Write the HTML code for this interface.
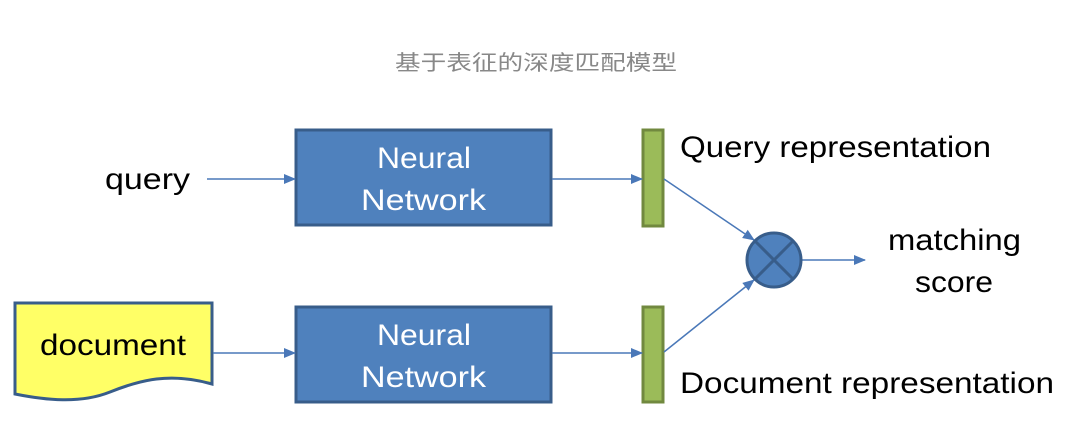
<!DOCTYPE html>
<html><head><meta charset="utf-8"><style>
html,body{margin:0;padding:0;background:#fff;width:1080px;height:425px;overflow:hidden}
svg text{font-family:"Liberation Sans","DejaVu Sans",sans-serif}
</style></head><body>
<svg width="1080" height="425" viewBox="0 0 1080 425" xmlns="http://www.w3.org/2000/svg">
<defs>
<marker id="a" markerWidth="12" markerHeight="10" refX="11" refY="5" orient="auto" markerUnits="userSpaceOnUse">
<path d="M0,0 L12,5 L0,10 Z" fill="#4a78b8"/></marker>
</defs>
<text x="395" y="70" font-size="21" fill="#888" textLength="282" lengthAdjust="spacingAndGlyphs" font-family="'Noto Sans CJK SC',sans-serif">基于表征的深度匹配模型</text>
<rect x="296" y="130" width="255" height="95" fill="#4f81bd" stroke="#385d8a" stroke-width="3"/>
<rect x="296" y="307" width="255" height="95" fill="#4f81bd" stroke="#385d8a" stroke-width="3"/>
<g font-size="30" fill="#fff">
<text x="377" y="168" textLength="94" lengthAdjust="spacingAndGlyphs">Neural</text>
<text x="361" y="210" textLength="125" lengthAdjust="spacingAndGlyphs">Network</text>
<text x="377" y="345" textLength="94" lengthAdjust="spacingAndGlyphs">Neural</text>
<text x="361" y="387" textLength="125" lengthAdjust="spacingAndGlyphs">Network</text>
</g>
<path d="M15,303 L212,303 L212,384 C170,372 140,380 110,392 C80,404 45,400 15,394 Z" fill="#ffff66" stroke="#385d8a" stroke-width="3"/>
<g font-size="30" fill="#000">
<text x="40" y="355" textLength="146" lengthAdjust="spacingAndGlyphs">document</text>
<text x="105" y="189" textLength="85" lengthAdjust="spacingAndGlyphs">query</text>
<text x="680" y="157" textLength="311" lengthAdjust="spacingAndGlyphs">Query representation</text>
<text x="680" y="393" textLength="374" lengthAdjust="spacingAndGlyphs">Document representation</text>
<text x="888" y="250" textLength="133" lengthAdjust="spacingAndGlyphs">matching</text>
<text x="915" y="292" textLength="78" lengthAdjust="spacingAndGlyphs">score</text>
</g>
<rect x="643" y="130" width="20" height="96" fill="#9bbb59" stroke="#71893f" stroke-width="3"/>
<rect x="643" y="307" width="20" height="95" fill="#9bbb59" stroke="#71893f" stroke-width="3"/>
<g stroke="#4a78b8" stroke-width="1.5" fill="none" marker-end="url(#a)">
<line x1="207" y1="179" x2="295" y2="179"/>
<line x1="213" y1="353" x2="295" y2="353"/>
<line x1="552" y1="179" x2="642" y2="179"/>
<line x1="552" y1="353" x2="642" y2="353"/>
<line x1="664" y1="179" x2="754" y2="240"/>
<line x1="664" y1="352" x2="754" y2="280"/>
<line x1="801" y1="260" x2="865" y2="260"/>
</g>
<circle cx="774" cy="260" r="27" fill="#4f81bd" stroke="#385d8a" stroke-width="3"/>
<line x1="755" y1="241" x2="793" y2="279" stroke="#385d8a" stroke-width="3"/>
<line x1="793" y1="241" x2="755" y2="279" stroke="#385d8a" stroke-width="3"/>
</svg>
</body></html>
